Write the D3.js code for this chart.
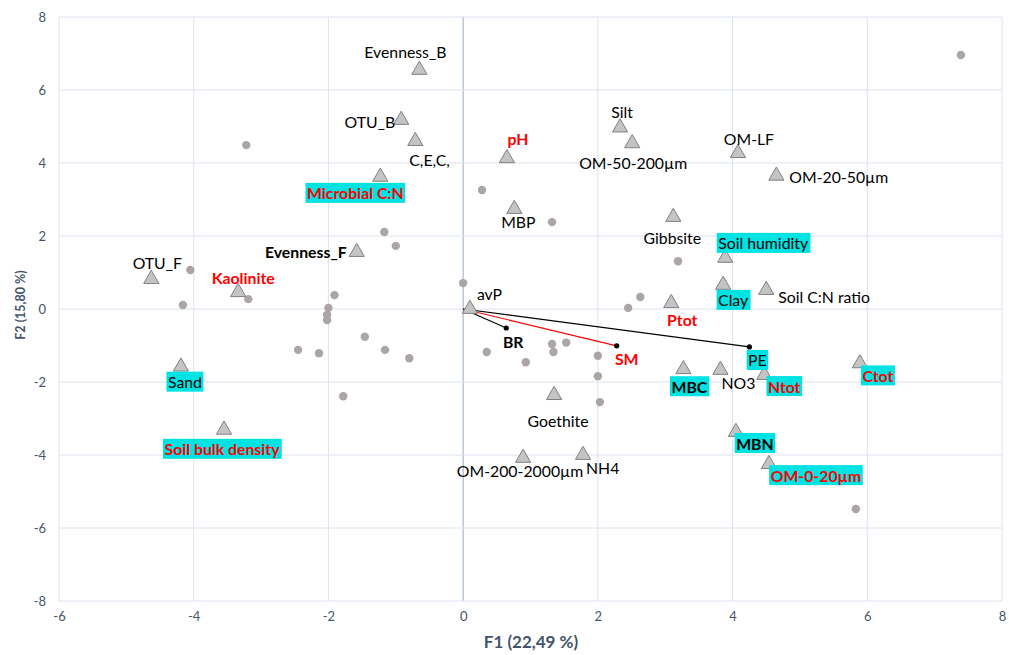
<!DOCTYPE html>
<html>
<head>
<meta charset="utf-8">
<script src="https://cdn.jsdelivr.net/npm/d3@7/dist/d3.min.js"></script>
<style>
  html, body { margin: 0; padding: 0; background: #fff; }
  svg { display: block; }
</style>
</head>
<body>
<svg id="chart" width="1009" height="655"></svg>
<script>
// ---------- DATA ----------
const xTicks = [-6, -4, -2, 0, 2, 4, 6, 8];
const yTicks = [-8, -6, -4, -2, 0, 2, 4, 6, 8];
const xTitle = "F1 (22,49 %)";
const yTitle = "F2 (15,80 %)";

// observations (grey dots)
const obsX = [-3.22, 0.28, -1.17, -1.00, -4.05, -4.16, -3.19, -1.91, -2.00, -2.02, -2.02, 0.00,
              -2.45, -2.14, -1.46, -1.16, -0.80, -1.78, 0.35, 1.32, 3.19, 2.63, 2.45, 1.32,
              1.53, 1.34, 0.93, 2.00, 2.00, 2.03, 5.83, 7.39];
const obsY = [4.49, 3.26, 2.11, 1.73, 1.07, 0.11, 0.27, 0.38, 0.03, -0.16, -0.30, 0.71,
              -1.12, -1.21, -0.76, -1.12, -1.35, -2.39, -1.18, 2.38, 1.31, 0.33, 0.03, -0.96,
              -0.92, -1.18, -1.46, -1.28, -1.84, -2.55, -5.48, 6.96];

// explanatory variables (triangles)
const varNames = ["Evenness_B", "OTU_B", "C,E,C,", "Microbial C:N", "Evenness_F", "OTU_F", "Kaolinite",
                  "avP", "Sand", "Soil bulk density", "MBP", "Gibbsite", "pH", "Silt", "OM-50-200µm",
                  "OM-LF", "OM-20-50µm", "Soil humidity", "Clay", "Soil C:N ratio", "Ptot", "MBC",
                  "NO3", "Ntot", "Ctot", "Goethite", "MBN", "OM-0-20µm", "OM-200-2000µm", "NH4"];
const varX = [-0.65, -0.92, -0.71, -1.23, -1.58, -4.63, -3.34,
              0.10, -4.19, -3.55, 0.76, 3.12, 0.65, 2.33, 2.51,
              4.08, 4.65, 3.89, 3.86, 4.50, 3.09, 3.27,
              3.82, 4.47, 5.89, 1.35, 4.05, 4.54, 0.89, 1.78];
const varY = [6.55, 5.18, 4.60, 3.62, 1.56, 0.82, 0.46,
              0.00, -1.58, -3.31, 2.74, 2.52, 4.13, 4.97, 4.54,
              4.27, 3.65, 1.40, 0.66, 0.52, 0.16, -1.65,
              -1.67, -1.81, -1.49, -2.36, -3.37, -4.25, -4.08, -4.00];

// response variables (vectors from origin)
const respNames = ["BR", "SM", "PE"];
const respX = [0.64, 2.28, 4.25];
const respY = [-0.52, -1.01, -1.04];

// ---------- STYLE / LAYOUT (not data) ----------
// label style: n = plain black, b = bold black, r = bold red,
// cn = cyan box plain black, cb = cyan box bold black, cr = cyan box bold red
const varStyle = ["n","n","n","cr","b","n","r",
                  "n","cn","cr","n","n","r","n","n",
                  "n","n","cn","cn","n","r","cb",
                  "n","cr","cr","n","cb","cr","n","n"];
// label offset in px [dx, dy, anchor]
const varLabelOffset = [
  [-14,-18,"middle"], [-6,2,"end"], [-6,18,"start"], [-25,16,"middle"], [-10,-1,"end"], [6,-17,"middle"], [5,-15,"middle"],
  [7,-16,"start"], [4,15,"middle"], [-2,19,"middle"], [4,13,"middle"], [-1,20,"middle"], [11,-20,"middle"], [2,-16,"middle"], [1,19,"middle"],
  [11,-15,"middle"], [13,1,"start"], [38,-15,"middle"], [10,15,"middle"], [12,6,"start"], [11,16,"middle"], [6,17,"middle"],
  [18,13,"middle"], [20,11,"middle"], [18,12,"middle"], [4,25,"middle"], [19,11,"middle"], [47,11,"middle"], [-3,13,"middle"], [3,12,"start"]
];
const respStyle = ["b", "r", "cn"];
const respColor = ["#000000", "#ff0000", "#000000"];
const respLabelOffset = [[7,14,"middle"], [10,13,"middle"], [8,13,"middle"]];

// ---------- CHART ----------
const svg = d3.select("#chart");
const margin = {left: 59, right: 7, top: 17, bottom: 54};
const W = 1009, H = 655;
const x = d3.scaleLinear().domain([-6, 8]).range([margin.left, W - margin.right]);
const y = d3.scaleLinear().domain([-8, 8]).range([H - margin.bottom, margin.top]);

const font = "Lato, 'Open Sans', sans-serif";
const axisColor = "#44546A";
const gridColor = "#DCE3EE";

// gridlines
svg.append("g").selectAll("line.vx").data(xTicks).join("line")
  .attr("x1", d => x(d)).attr("x2", d => x(d))
  .attr("y1", y(8)).attr("y2", y(-8))
  .attr("stroke", d => d === 0 ? "#9AAAC2" : gridColor)
  .attr("stroke-width", 1);
svg.append("g").selectAll("line.hy").data(yTicks).join("line")
  .attr("x1", x(-6)).attr("x2", x(8))
  .attr("y1", d => y(d)).attr("y2", d => y(d))
  .attr("stroke", gridColor).attr("stroke-width", 1);

// axes (tick labels only)
const xAxis = svg.append("g").attr("transform", `translate(0,${y(-8)})`)
  .call(d3.axisBottom(x).tickValues(xTicks).tickSize(0).tickPadding(11).tickFormat(d3.format("d")));
const yAxis = svg.append("g").attr("transform", `translate(${x(-6)},0)`)
  .call(d3.axisLeft(y).tickValues(yTicks).tickSize(0).tickPadding(13).tickFormat(d3.format("d")));
[xAxis, yAxis].forEach(a => {
  a.select(".domain").remove();
  a.selectAll("text").attr("fill", axisColor).style("font-family", font).style("font-size", "13px");
});
yAxis.selectAll("text").text(d => String(d));
xAxis.selectAll("text").text(d => String(d));

svg.append("text").attr("x", 531).attr("y", 648).attr("text-anchor", "middle")
  .attr("fill", axisColor).style("font-family", font).style("font-size", "17px").style("font-weight", "bold")
  .text(xTitle);
svg.append("text").attr("transform", `translate(25,${305}) rotate(-90)`).attr("text-anchor", "middle")
  .attr("fill", axisColor).style("font-family", font).style("font-size", "12.5px").style("font-weight", "bold")
  .text(yTitle);

// vectors
const resp = respNames.map((n, i) => ({name: n, x: respX[i], y: respY[i], i}));
svg.append("g").selectAll("line").data(resp).join("line")
  .attr("x1", x(0)).attr("y1", y(0))
  .attr("x2", d => x(d.x)).attr("y2", d => y(d.y))
  .attr("stroke", d => respColor[d.i]).attr("stroke-width", 1.2);

// observations
const obs = obsX.map((v, i) => ({x: v, y: obsY[i]}));
svg.append("g").selectAll("circle").data(obs).join("circle")
  .attr("cx", d => x(d.x)).attr("cy", d => y(d.y)).attr("r", 4.2)
  .attr("fill", "#ABA5A5");

// response endpoints
svg.append("g").selectAll("circle").data(resp).join("circle")
  .attr("cx", d => x(d.x)).attr("cy", d => y(d.y)).attr("r", 2.6)
  .attr("fill", "#000");

// triangles
const vars = varNames.map((n, i) => ({name: n, x: varX[i], y: varY[i], i}));
const tri = d3.symbol().type(d3.symbolTriangle).size(100);
svg.append("g").selectAll("path").data(vars).join("path")
  .attr("d", tri)
  .attr("transform", d => `translate(${x(d.x)},${y(d.y)})`)
  .attr("fill", "#C4C4C4").attr("stroke", "#808080").attr("stroke-width", 1);

// labels
function drawLabel(g, px, py, text, style, off) {
  const boxed = style[0] === "c";
  const s = boxed ? style.slice(1) : style;
  const color = s === "r" ? "#ff0000" : "#000000";
  const bold = s === "r" || s === "b";
  const grp = g.append("g");
  const t = grp.append("text")
    .attr("x", px + off[0]).attr("y", py + off[1])
    .attr("text-anchor", off[2]).attr("dominant-baseline", "central")
    .attr("fill", color)
    .style("font-family", font).style("font-size", "15.8px")
    .style("font-weight", bold ? "bold" : "normal")
    .text(text);
  if (boxed) {
    const bb = t.node().getBBox();
    grp.insert("rect", "text")
      .attr("x", bb.x - 1.5).attr("y", bb.y - 0.5)
      .attr("width", bb.width + 3).attr("height", bb.height + 1)
      .attr("fill", "#00E3E3");
  }
}
const lg = svg.append("g");
vars.forEach(d => drawLabel(lg, x(d.x), y(d.y), d.name, varStyle[d.i], varLabelOffset[d.i]));
resp.forEach(d => drawLabel(lg, x(d.x), y(d.y), d.name, respStyle[d.i], respLabelOffset[d.i]));
</script>
</body>
</html>
